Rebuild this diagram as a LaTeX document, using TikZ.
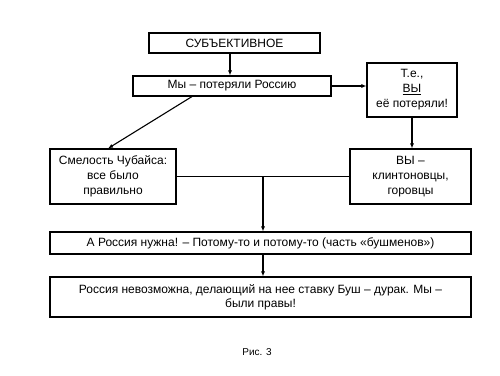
\documentclass[tikz,border=0pt]{standalone}
\usepackage{fontspec}
\setmainfont{Liberation Sans}
\usetikzlibrary{arrows.meta}
\begin{document}
\begin{tikzpicture}[x=1pt,y=-1pt,
  box/.style={draw, line width=1.1pt, inner sep=0pt, align=center,
    font=\fontsize{12}{15}\selectfont},
  arr/.style={line width=1.1pt, -{Latex[length=5pt,width=4pt]}},
  ln/.style={line width=1.1pt}]
\useasboundingbox (0,0) rectangle (500,375);
\node[box, minimum width=171pt, minimum height=20pt] (b1) at (234.5,43) {СУБЪЕКТИВНОЕ};
\node[box, minimum width=198pt, minimum height=20pt] (b2) at (232,86) {Мы – потеряли Россию};
\node[box, minimum width=90pt, minimum height=54pt] (b3) at (412,90) {Т.е.,\\\underline{ВЫ}\\её потеряли!};
\node[box, minimum width=126pt, minimum height=55pt] (b4) at (113,176.5) {Смелость Чубайса:\\все было\\правильно};
\node[box, minimum width=121pt, minimum height=55pt] (b5) at (410.5,176.5) {ВЫ –\\клинтоновцы,\\горовцы};
\node[box, minimum width=421pt, minimum height=22pt] (b6) at (260.5,243) {А Россия нужна! – Потому-то и потому-то (часть «бушменов»)};
\node[box, minimum width=421pt, minimum height=40pt, font=\fontsize{12}{14}\selectfont] (b7) at (260.5,297) {Россия невозможна, делающий на нее ставку Буш – дурак. Мы –\\были правы!};
\node[font=\fontsize{10}{12}\selectfont] (cap) at (257,352) {Рис. 3};
\coordinate (a1) at (230,0);
\coordinate (p1) at (192,0);
\coordinate (q1) at (108,0);
\coordinate (jx) at (263,0);
\draw[arr] (b1.south -| a1) -- (b2.north -| a1);
\draw[arr] (b2.east) -- (b3.west |- b2.east);
\draw[arr] (b2.south -| p1) -- (b4.north -| q1);
\draw[arr] (b3.south) -- (b5.north -| b3.south);
\draw[ln] (b4.east) -- (b5.west);
\coordinate (j) at (b4.east -| jx);
\draw[arr] (j) -- (b6.north -| j);
\draw[arr] (b6.south -| j) -- (b7.north -| j);
\end{tikzpicture}
\end{document}
